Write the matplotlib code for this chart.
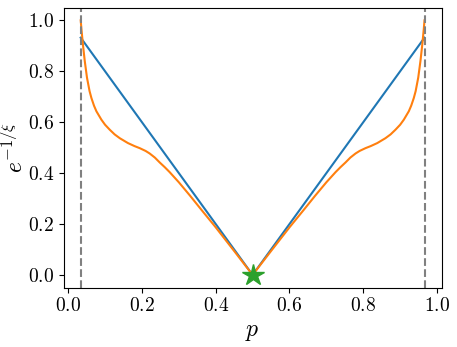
import numpy as np
import matplotlib
matplotlib.use('Agg')
import matplotlib.pyplot as plt

plt.rcParams['font.family'] = 'serif'
plt.rcParams['font.serif'] = ['cmr10']
plt.rcParams['mathtext.fontset'] = 'cm'
plt.rcParams['axes.formatter.use_mathtext'] = True

# critical points (dashed lines)
p_lo = 0.034
p_hi = 0.966

# blue: straight V
p_blue = [0.034, 0.5, 0.966]
y_blue = [0.932, 0.0, 0.932]

# orange, left half (symmetric about p = 0.5)
p_orange_half = [0.034, 0.036, 0.038, 0.040, 0.045, 0.051, 0.058, 0.063, 0.070,
                 0.0765, 0.090, 0.100, 0.113, 0.126, 0.140, 0.162, 0.180, 0.194,
                 0.210, 0.221, 0.235, 0.248, 0.262, 0.275, 0.300, 0.330, 0.360,
                 0.400, 0.450, 0.500]
y_orange_half = [1.000, 0.965, 0.935, 0.905, 0.840, 0.775, 0.722, 0.695, 0.665,
                 0.643, 0.610, 0.590, 0.570, 0.552, 0.537, 0.518, 0.506, 0.498,
                 0.487, 0.477, 0.461, 0.442, 0.423, 0.404, 0.364, 0.312, 0.258,
                 0.187, 0.094, 0.000]

p_orange = p_orange_half + [1 - p for p in p_orange_half[-2::-1]]
y_orange = y_orange_half + y_orange_half[-2::-1]

fig = plt.figure(figsize=(4.57, 3.47), dpi=100)
ax = fig.add_axes([0.139, 0.171, 0.8275, 0.807])

ax.plot(p_blue, y_blue, color='tab:blue', lw=1.5)
ax.plot(p_orange, y_orange, color='tab:orange', lw=1.5)
ax.axvline(p_lo, color='gray', ls='--', lw=1.5)
ax.axvline(p_hi, color='gray', ls='--', lw=1.5)
ax.plot([0.5], [0.0], '*', color='tab:green', ms=16)

ax.set_xticks([0.0, 0.2, 0.4, 0.6, 0.8, 1.0])
ax.set_yticks([0.0, 0.2, 0.4, 0.6, 0.8, 1.0])
ax.tick_params(labelsize=14)
ax.set_xlabel(r'$p$', fontsize=17)
ax.set_ylabel(r'$e^{-1/\xi}$', fontsize=17)
ax.yaxis.set_label_coords(-0.095, 0.5)

fig.savefig('out.png', dpi=100)
